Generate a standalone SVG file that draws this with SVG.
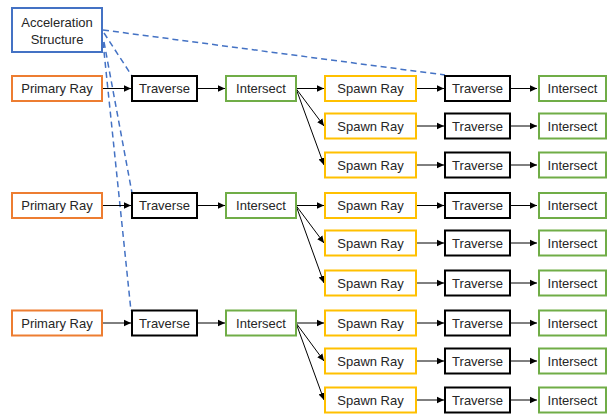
<svg xmlns="http://www.w3.org/2000/svg" width="609" height="416" viewBox="0 0 609 416">
<defs>
<style>
.b{fill:#fff;stroke-width:2}
.acc{stroke:#4472C4}
.pr{stroke:#ED7D31}
.tr{stroke:#000}
.is{stroke:#70AD47}
.sp{stroke:#FFC000}
text{font-family:"Liberation Sans",Arial,sans-serif;font-size:13px;fill:#262626;text-anchor:middle;dominant-baseline:central}
.c line{stroke:#000;stroke-width:1;marker-end:url(#ah)}
.d line{stroke:#4472C4;stroke-width:1.5;stroke-dasharray:6 4;fill:none}
</style>
<marker id="ah" markerWidth="8" markerHeight="8" refX="7" refY="4" orient="auto" markerUnits="userSpaceOnUse">
<path d="M0,0.8 L7,4 L0,7.2 Z" fill="#000"/>
</marker>
</defs>
<rect width="609" height="416" fill="#fff"/>

<g id="dashed" class="d">
<line x1="103" y1="30" x2="445" y2="75"/>
<line x1="104" y1="33" x2="132" y2="76"/>
<line x1="104" y1="42" x2="132" y2="193"/>
<line x1="103" y1="42" x2="131" y2="311"/>
</g>

<g id="connectors" class="c">
<line x1="102" y1="88.5" x2="131" y2="88.5"/>
<line x1="197" y1="88.5" x2="225" y2="88.5"/>
<line x1="296" y1="88.5" x2="324" y2="88.5"/>
<line x1="296" y1="88.5" x2="324" y2="126"/>
<line x1="296" y1="88.5" x2="324" y2="165"/>
<line x1="416" y1="88.5" x2="444" y2="88.5"/>
<line x1="416" y1="126" x2="444" y2="126"/>
<line x1="416" y1="165" x2="444" y2="165"/>
<line x1="510" y1="88.5" x2="537" y2="88.5"/>
<line x1="510" y1="126" x2="537" y2="126"/>
<line x1="510" y1="165" x2="537" y2="165"/>

<line x1="102" y1="205.5" x2="131" y2="205.5"/>
<line x1="197" y1="205.5" x2="225" y2="205.5"/>
<line x1="296" y1="205.5" x2="324" y2="205.5"/>
<line x1="296" y1="205.5" x2="324" y2="243"/>
<line x1="296" y1="205.5" x2="324" y2="283"/>
<line x1="416" y1="205.5" x2="444" y2="205.5"/>
<line x1="416" y1="243" x2="444" y2="243"/>
<line x1="416" y1="283" x2="444" y2="283"/>
<line x1="510" y1="205.5" x2="537" y2="205.5"/>
<line x1="510" y1="243" x2="537" y2="243"/>
<line x1="510" y1="283" x2="537" y2="283"/>

<line x1="102" y1="323" x2="131" y2="323"/>
<line x1="197" y1="323" x2="225" y2="323"/>
<line x1="296" y1="323" x2="324" y2="323"/>
<line x1="296" y1="323" x2="324" y2="361"/>
<line x1="296" y1="323" x2="324" y2="400"/>
<line x1="416" y1="323" x2="444" y2="323"/>
<line x1="416" y1="361" x2="444" y2="361"/>
<line x1="416" y1="400" x2="444" y2="400"/>
<line x1="510" y1="323" x2="537" y2="323"/>
<line x1="510" y1="361" x2="537" y2="361"/>
<line x1="510" y1="400" x2="537" y2="400"/>
</g>

<g id="accel"><rect class="b acc" x="12" y="8" width="90" height="44"/><text x="57" y="22">Acceleration</text><text x="57" y="39">Structure</text></g>

<g id="pr1"><rect class="b pr" x="12" y="76" width="90" height="25"/><text x="57" y="88.5">Primary Ray</text></g>
<g id="pr2"><rect class="b pr" x="12" y="193" width="90" height="25"/><text x="57" y="205.5">Primary Ray</text></g>
<g id="pr3"><rect class="b pr" x="12" y="310.5" width="90" height="25"/><text x="57" y="323">Primary Ray</text></g>

<g id="tr1"><rect class="b tr" x="132" y="76" width="65" height="25"/><text x="164.5" y="88.5">Traverse</text></g>
<g id="tr2"><rect class="b tr" x="132" y="193" width="65" height="25"/><text x="164.5" y="205.5">Traverse</text></g>
<g id="tr3"><rect class="b tr" x="132" y="310.5" width="65" height="25"/><text x="164.5" y="323">Traverse</text></g>

<g id="is1"><rect class="b is" x="226" y="76" width="70" height="25"/><text x="261" y="88.5">Intersect</text></g>
<g id="is2"><rect class="b is" x="226" y="193" width="70" height="25"/><text x="261" y="205.5">Intersect</text></g>
<g id="is3"><rect class="b is" x="226" y="310.5" width="70" height="25"/><text x="261" y="323">Intersect</text></g>

<g id="sp1"><rect class="b sp" x="325" y="76" width="91" height="25"/><text x="370.5" y="88.5">Spawn Ray</text></g>
<g id="sp2"><rect class="b sp" x="325" y="113.5" width="91" height="25"/><text x="370.5" y="126">Spawn Ray</text></g>
<g id="sp3"><rect class="b sp" x="325" y="152.5" width="91" height="25"/><text x="370.5" y="165">Spawn Ray</text></g>
<g id="sp4"><rect class="b sp" x="325" y="193" width="91" height="25"/><text x="370.5" y="205.5">Spawn Ray</text></g>
<g id="sp5"><rect class="b sp" x="325" y="230.5" width="91" height="25"/><text x="370.5" y="243">Spawn Ray</text></g>
<g id="sp6"><rect class="b sp" x="325" y="270.5" width="91" height="25"/><text x="370.5" y="283">Spawn Ray</text></g>
<g id="sp7"><rect class="b sp" x="325" y="310.5" width="91" height="25"/><text x="370.5" y="323">Spawn Ray</text></g>
<g id="sp8"><rect class="b sp" x="325" y="348.5" width="91" height="25"/><text x="370.5" y="361">Spawn Ray</text></g>
<g id="sp9"><rect class="b sp" x="325" y="387.5" width="91" height="25"/><text x="370.5" y="400">Spawn Ray</text></g>

<g id="tr4"><rect class="b tr" x="445" y="76" width="65" height="25"/><text x="477.5" y="88.5">Traverse</text></g>
<g id="tr5"><rect class="b tr" x="445" y="113.5" width="65" height="25"/><text x="477.5" y="126">Traverse</text></g>
<g id="tr6"><rect class="b tr" x="445" y="152.5" width="65" height="25"/><text x="477.5" y="165">Traverse</text></g>
<g id="tr7"><rect class="b tr" x="445" y="193" width="65" height="25"/><text x="477.5" y="205.5">Traverse</text></g>
<g id="tr8"><rect class="b tr" x="445" y="230.5" width="65" height="25"/><text x="477.5" y="243">Traverse</text></g>
<g id="tr9"><rect class="b tr" x="445" y="270.5" width="65" height="25"/><text x="477.5" y="283">Traverse</text></g>
<g id="tr10"><rect class="b tr" x="445" y="310.5" width="65" height="25"/><text x="477.5" y="323">Traverse</text></g>
<g id="tr11"><rect class="b tr" x="445" y="348.5" width="65" height="25"/><text x="477.5" y="361">Traverse</text></g>
<g id="tr12"><rect class="b tr" x="445" y="387.5" width="65" height="25"/><text x="477.5" y="400">Traverse</text></g>

<g id="is4"><rect class="b is" x="539" y="76" width="67" height="25"/><text x="572.5" y="88.5">Intersect</text></g>
<g id="is5"><rect class="b is" x="539" y="113.5" width="67" height="25"/><text x="572.5" y="126">Intersect</text></g>
<g id="is6"><rect class="b is" x="539" y="152.5" width="67" height="25"/><text x="572.5" y="165">Intersect</text></g>
<g id="is7"><rect class="b is" x="539" y="193" width="67" height="25"/><text x="572.5" y="205.5">Intersect</text></g>
<g id="is8"><rect class="b is" x="539" y="230.5" width="67" height="25"/><text x="572.5" y="243">Intersect</text></g>
<g id="is9"><rect class="b is" x="539" y="270.5" width="67" height="25"/><text x="572.5" y="283">Intersect</text></g>
<g id="is10"><rect class="b is" x="539" y="310.5" width="67" height="25"/><text x="572.5" y="323">Intersect</text></g>
<g id="is11"><rect class="b is" x="539" y="348.5" width="67" height="25"/><text x="572.5" y="361">Intersect</text></g>
<g id="is12"><rect class="b is" x="539" y="387.5" width="67" height="25"/><text x="572.5" y="400">Intersect</text></g>
</svg>
